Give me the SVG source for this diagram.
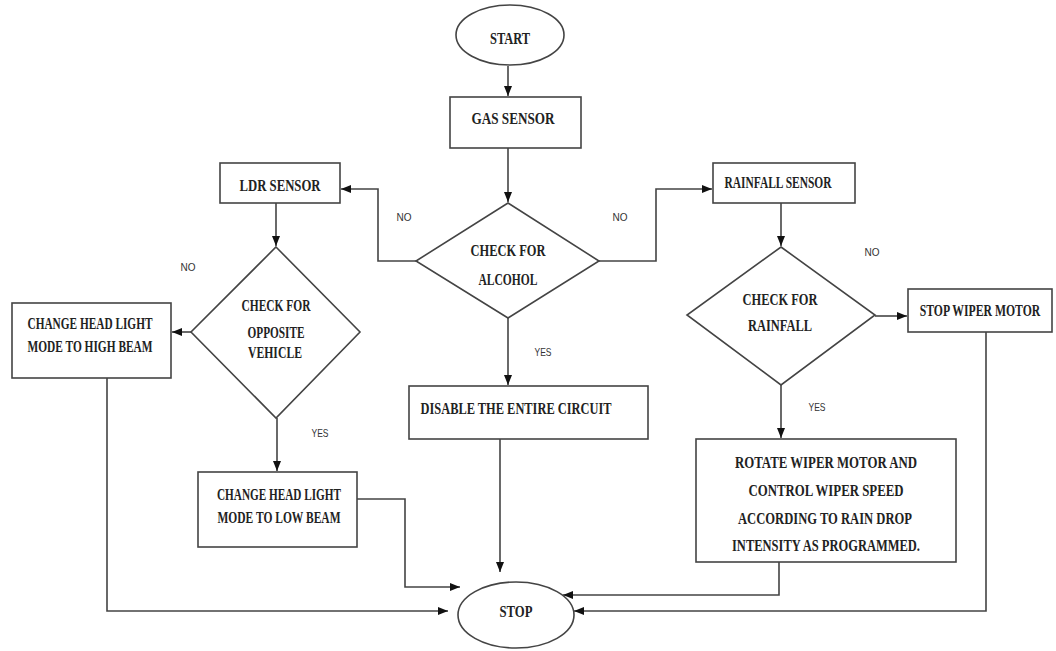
<svg xmlns="http://www.w3.org/2000/svg" width="1056" height="651" viewBox="0 0 1056 651">
<defs>
<marker id="ah" markerUnits="userSpaceOnUse" markerWidth="10" markerHeight="10" viewBox="0 0 10 10" refX="10" refY="5" orient="auto">
<path d="M0,1 L10,5 L0,9 Z" fill="#111"/>
</marker>
</defs>
<style>
.box{fill:#fff;stroke:#444;stroke-width:1.6}
.t{font-family:"Liberation Serif","Times New Roman",serif;font-weight:bold;font-size:17px;fill:#222;text-anchor:middle}
.l{font-family:"Liberation Sans",Arial,sans-serif;font-size:11px;fill:#333;text-anchor:middle}
.c{fill:none;stroke:#444;stroke-width:1.6}
.a{marker-end:url(#ah)}
</style>
<rect width="1056" height="651" fill="#fff"/>
<g id="connectors">
<path class="c a" d="M508,66 V96"/>
<path class="c a" d="M508,148 V202"/>
<path class="c a" d="M416,261 H378 V189 H341"/>
<path class="c a" d="M599,261 H656 V189 H712"/>
<path class="c a" d="M276,203 V246"/>
<path class="c a" d="M191,332 H172"/>
<path class="c a" d="M277,418 V471"/>
<path class="c a" d="M781,203 V246"/>
<path class="c a" d="M875,316 H907"/>
<path class="c a" d="M781,385 V438"/>
<path class="c a" d="M508,318 V385"/>
<path class="c a" d="M107,378 V611 H448"/>
<path class="c a" d="M357,499 H405 V587 H460"/>
<path class="c a" d="M500,439 V572"/>
<path class="c a" d="M779,562 V595 H563"/>
<path class="c a" d="M986,332 V611 H574"/>
</g>
<g id="labels">
<text class="l" x="404" y="221" textLength="15" lengthAdjust="spacingAndGlyphs">NO</text>
<text class="l" x="620" y="221" textLength="15" lengthAdjust="spacingAndGlyphs">NO</text>
<text class="l" x="188" y="271" textLength="15" lengthAdjust="spacingAndGlyphs">NO</text>
<text class="l" x="872" y="256" textLength="15" lengthAdjust="spacingAndGlyphs">NO</text>
<text class="l" x="543" y="356" textLength="17" lengthAdjust="spacingAndGlyphs">YES</text>
<text class="l" x="320" y="437" textLength="17" lengthAdjust="spacingAndGlyphs">YES</text>
<text class="l" x="817" y="411" textLength="17" lengthAdjust="spacingAndGlyphs">YES</text>
</g>
<g id="start">
<ellipse class="box" cx="510" cy="35" rx="54" ry="30"/>
<text class="t" x="510" y="44" textLength="40" lengthAdjust="spacingAndGlyphs">START</text>
</g>
<g id="gas-sensor">
<rect class="box" x="450" y="97" width="131" height="51"/>
<text class="t" x="513" y="124" textLength="83" lengthAdjust="spacingAndGlyphs">GAS SENSOR</text>
</g>
<g id="check-alcohol">
<polygon class="box" points="508,203 599,261 508,318 416,261"/>
<text class="t" x="508" y="256" textLength="75" lengthAdjust="spacingAndGlyphs">CHECK FOR</text>
<text class="t" x="508" y="285" textLength="59" lengthAdjust="spacingAndGlyphs">ALCOHOL</text>
</g>
<g id="ldr-sensor">
<rect class="box" x="220" y="163" width="120" height="40"/>
<text class="t" x="280" y="191" textLength="81" lengthAdjust="spacingAndGlyphs">LDR SENSOR</text>
</g>
<g id="check-opposite">
<polygon class="box" points="276,247 360,332 276,418 191,332"/>
<text class="t" x="276" y="311" textLength="69" lengthAdjust="spacingAndGlyphs">CHECK FOR</text>
<text class="t" x="276" y="338" textLength="57" lengthAdjust="spacingAndGlyphs">OPPOSITE</text>
<text class="t" x="275" y="358" textLength="54" lengthAdjust="spacingAndGlyphs">VEHICLE</text>
</g>
<g id="high-beam">
<rect class="box" x="12" y="303" width="159" height="75"/>
<text class="t" x="90" y="329" textLength="125" lengthAdjust="spacingAndGlyphs">CHANGE HEAD LIGHT</text>
<text class="t" x="90" y="352" textLength="125" lengthAdjust="spacingAndGlyphs">MODE TO HIGH BEAM</text>
</g>
<g id="low-beam">
<rect class="box" x="198" y="472" width="159" height="75"/>
<text class="t" x="279" y="500" textLength="124" lengthAdjust="spacingAndGlyphs">CHANGE HEAD LIGHT</text>
<text class="t" x="279" y="523" textLength="123" lengthAdjust="spacingAndGlyphs">MODE TO LOW BEAM</text>
</g>
<g id="disable">
<rect class="box" x="409" y="386" width="239" height="53"/>
<text class="t" x="516" y="414" textLength="191" lengthAdjust="spacingAndGlyphs">DISABLE THE ENTIRE CIRCUIT</text>
</g>
<g id="rainfall-sensor">
<rect class="box" x="713" y="163" width="142" height="40"/>
<text class="t" x="778" y="188" textLength="107" lengthAdjust="spacingAndGlyphs">RAINFALL SENSOR</text>
</g>
<g id="check-rainfall">
<polygon class="box" points="781,247 875,315 781,385 687,315"/>
<text class="t" x="780" y="305" textLength="75" lengthAdjust="spacingAndGlyphs">CHECK FOR</text>
<text class="t" x="780" y="331" textLength="64" lengthAdjust="spacingAndGlyphs">RAINFALL</text>
</g>
<g id="stop-wiper">
<rect class="box" x="908" y="289" width="144" height="43"/>
<text class="t" transform="translate(980,316) scale(0.69,1)" x="0" y="0">STOP WIPER MOTOR</text>
</g>
<g id="rotate-wiper">
<rect class="box" x="696" y="439" width="260" height="123"/>
<text class="t" x="826" y="468" textLength="182" lengthAdjust="spacingAndGlyphs">ROTATE WIPER MOTOR AND</text>
<text class="t" x="826" y="496" textLength="155" lengthAdjust="spacingAndGlyphs">CONTROL  WIPER SPEED</text>
<text class="t" x="825" y="524" textLength="174" lengthAdjust="spacingAndGlyphs">ACCORDING TO RAIN DROP</text>
<text class="t" x="826" y="551" textLength="188" lengthAdjust="spacingAndGlyphs">INTENSITY  AS PROGRAMMED.</text>
</g>
<g id="stop">
<ellipse class="box" cx="516" cy="615" rx="58" ry="33"/>
<text class="t" x="516" y="617" textLength="33" lengthAdjust="spacingAndGlyphs">STOP</text>
</g>
</svg>
